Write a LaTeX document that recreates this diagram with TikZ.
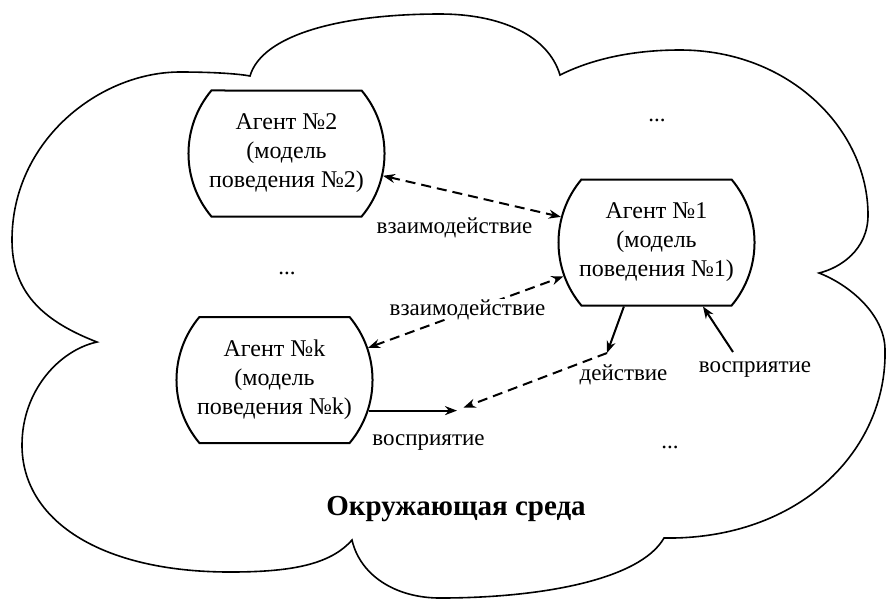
\documentclass[tikz,border=0pt]{standalone}
\usepackage{fontspec}
\setmainfont{Liberation Serif}
\usetikzlibrary{shapes.misc,arrows.meta}
\begin{document}
\begin{tikzpicture}[
  x=0.5pt, y=-0.5pt,
  >={Stealth[length=6pt,width=4.5pt]},
  agent/.style={rounded rectangle, rounded rectangle arc length=80, draw, line width=1pt,
    minimum width=93.5pt, minimum height=63pt, inner sep=0pt, align=center,
    font=\fontsize{12}{14.5}\selectfont},
  lbl/.style={anchor=base, inner sep=0pt, fill=white, font=\fontsize{11.5}{13}\selectfont},
  link/.style={line width=1pt, ->},
  dlink/.style={line width=1pt, dash pattern=on 5pt off 3pt}
]
  \useasboundingbox (0,0) rectangle (887,601);

  \draw[line width=0.8pt] (250,76) .. controls (262,35) and (340,14) .. (440,14)
    .. controls (500,14) and (548,35) .. (560,75)
    .. controls (590,60) and (630,50) .. (680,50)
    .. controls (790,50) and (868,130) .. (868,215)
    .. controls (868,250) and (840,268) .. (819,273)
    .. controls (850,285) and (885,315) .. (885,350)
    .. controls (887,450) and (800,540) .. (664,538)
    .. controls (640,580) and (540,598) .. (440,598)
    .. controls (395,598) and (360,575) .. (352,540)
    .. controls (330,565) and (290,572) .. (230,572)
    .. controls (100,572) and (22,520) .. (22,445)
    .. controls (22,390) and (60,350) .. (97,342)
    .. controls (40,320) and (12,290) .. (12,240)
    .. controls (12,140) and (100,72) .. (180,72)
    .. controls (215,72) and (240,74) .. (250,76) -- cycle;

  \node[agent] (ag2) at (286.5,153.5) {Агент №2\\(модель\\поведения №2)};
  \node[agent] (ag1) at (656.5,242.5) {Агент №1\\(модель\\поведения №1)};
  \node[agent] (agk) at (274.5,380)   {Агент №k\\(модель\\поведения №k)};

  \coordinate (act)  at (607,353);
  \coordinate (meet) at (457,410);
  \coordinate (perc) at (733,352);

  \draw[dlink,<->] (ag2.-13) -- (ag1.165);
  \draw[dlink,<->] (agk.19) -- (ag1.200);
  \draw[link] (ag1.243) -- (act);
  \draw[dlink,->,shorten >=3.5pt] (act) -- (meet);
  \draw[link] (agk.-18) -- (agk.-18 -| meet);
  \draw[link] (perc) -- (ag1.306);

  \node[lbl] (int1) at (454.5,233) {взаимодействие};
  \node[lbl] (int2) at (467.5,315) {взаимодействие};
  \node[lbl] (actl) at (623.5,380) {действие};
  \node[lbl] (per1) at (755,372)   {восприятие};
  \node[lbl] (per2) at (428.5,445) {восприятие};

  \node[lbl] (dots1) at (657,121) {...};
  \node[lbl] (dots2) at (287,274) {...};
  \node[lbl] (dots3) at (670,448) {...};

  \node[anchor=base, inner sep=0pt, font=\fontsize{14.5}{17}\selectfont\bfseries] (env) at (456,515) {Окружающая среда};
\end{tikzpicture}
\end{document}
